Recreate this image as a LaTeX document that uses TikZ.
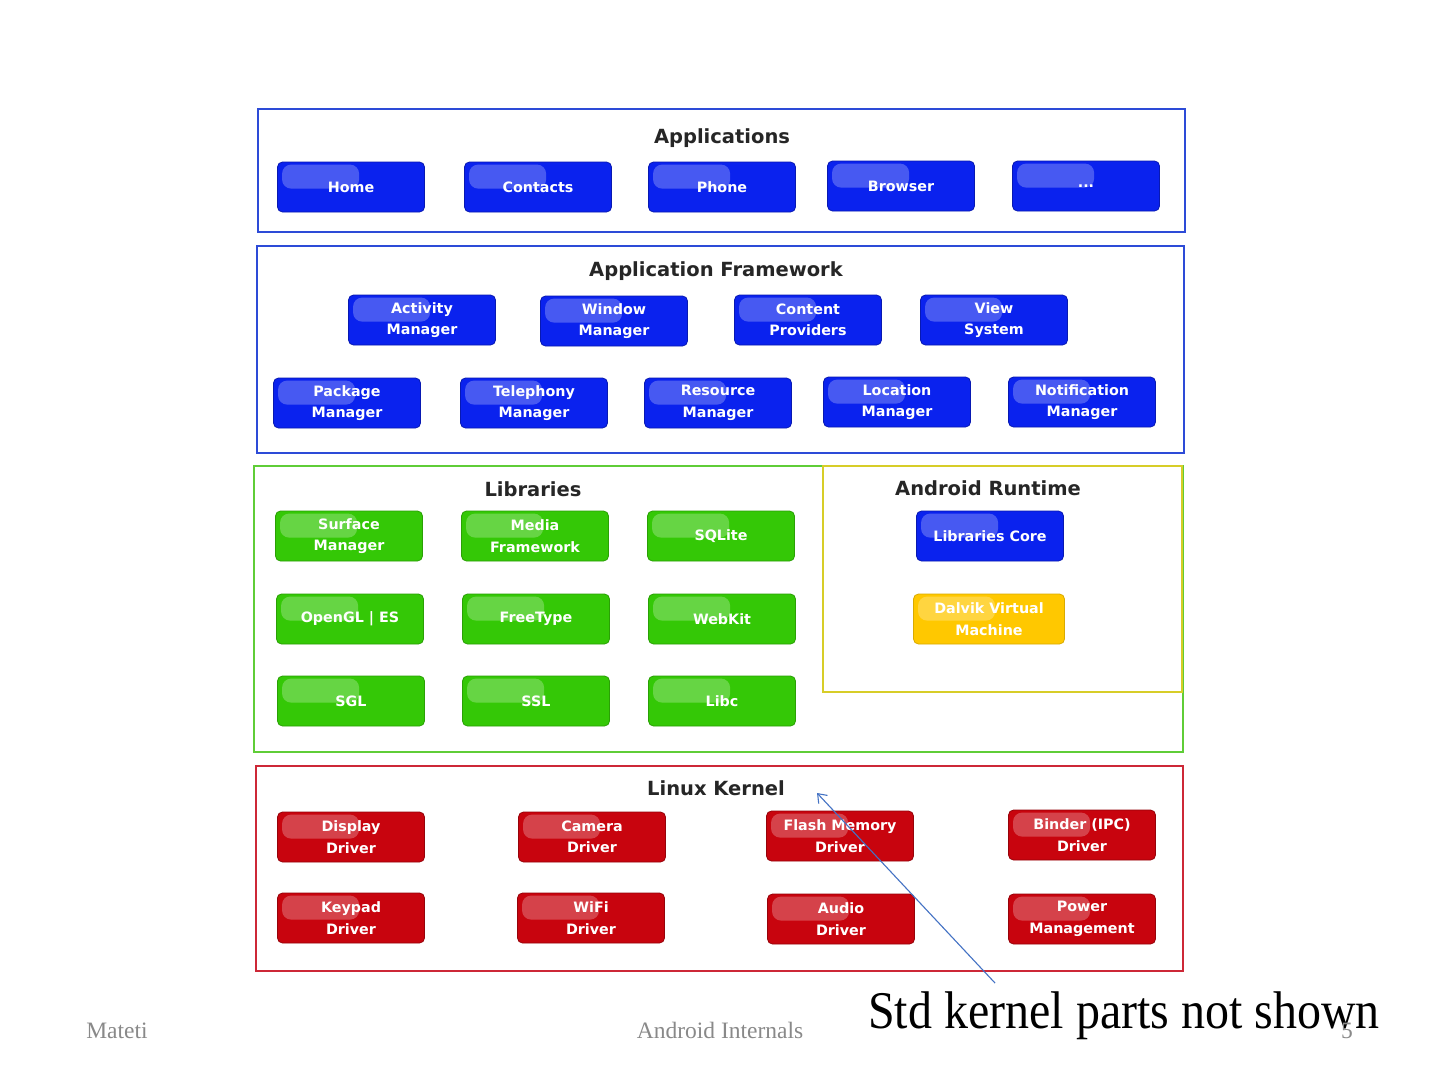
\documentclass[tikz,border=0pt]{standalone}
\usepackage{fontspec}
\setmainfont{Liberation Serif}
\newfontfamily\btnfont{DejaVu Sans}
\usetikzlibrary{arrows.meta}
\definecolor{bfill}{RGB}{10,34,238}
\definecolor{gfill}{RGB}{52,200,6}
\definecolor{rfill}{RGB}{200,4,14}
\definecolor{yfill}{RGB}{255,200,0}
\definecolor{bline}{RGB}{45,75,215}
\definecolor{gline}{RGB}{95,205,55}
\definecolor{yline}{RGB}{215,205,40}
\definecolor{rline}{RGB}{205,40,55}
\definecolor{arrowblue}{RGB}{68,114,196}
\definecolor{foot}{RGB}{137,137,137}
\tikzset{
  btn/.style={rounded corners=5pt, minimum width=147pt, minimum height=50pt,
    inner sep=0pt, align=center, text=white, line width=0.8pt,
    font=\btnfont\bfseries\fontsize{14.3}{21.5}\selectfont},
  bluebtn/.style={btn, fill=bfill, draw=bfill!75!black},
  greenbtn/.style={btn, fill=gfill, draw=gfill!80!black},
  redbtn/.style={btn, fill=rfill, draw=rfill!75!black},
  yellowbtn/.style={btn, fill=yfill, draw=yfill!85!black},
  layer/.style={line width=2.5pt, fill=white},
  ttl/.style={font=\btnfont\bfseries\fontsize{19.5}{22}\selectfont, text=black!85},
  footer/.style={font=\fontsize{23.5}{26}\selectfont, text=foot},
  glossy/.style={white, opacity=0.25, rounded corners=9pt}
}
\newcommand\glossit[1]{\fill[glossy] ([shift={(5pt,-3pt)}]#1.north west) rectangle ([shift={(82pt,-27pt)}]#1.north west);}
\begin{document}
\begin{tikzpicture}[x=1pt,y=-1pt]
\useasboundingbox (0,0) rectangle (1440,1080);
\fill[white] (0,0) rectangle (1440,1080);

% layers
\draw[layer, draw=bline] (258,109) rectangle (1185,232);
\draw[layer, draw=bline] (257,246) rectangle (1184,453);
\draw[layer, draw=gline] (254,466) rectangle (1183,752);
\draw[layer, draw=yline] (823,466) rectangle (1182,692);
\draw[layer, draw=rline] (256,766) rectangle (1183,971);

% titles
\node[ttl] (tapp) at (722,138) {Applications};
\node[ttl] (tfw) at (716,271) {Application Framework};
\node[ttl] (tlib) at (533,489) {Libraries};
\node[ttl] (trt) at (988,488) {Android Runtime};
\node[ttl] (tker) at (716,788) {Linux Kernel};

% Applications
\node[bluebtn] (home) at (351,187) {Home};
\node[bluebtn] (contacts) at (538,187) {Contacts};
\node[bluebtn] (phone) at (722,187) {Phone};
\node[bluebtn] (browser) at (901,186) {Browser};
\node[bluebtn] (more) at (1086,186) {...};

% Framework
\node[bluebtn] (activity) at (422,320) {Activity\\Manager};
\node[bluebtn] (window) at (614,321) {Window\\Manager};
\node[bluebtn] (content) at (808,320) {Content\\Providers};
\node[bluebtn] (view) at (994,320) {View\\System};
\node[bluebtn] (package) at (347,403) {Package\\Manager};
\node[bluebtn] (telephony) at (534,403) {Telephony\\Manager};
\node[bluebtn] (resource) at (718,403) {Resource\\Manager};
\node[bluebtn] (location) at (897,402) {Location\\Manager};
\node[bluebtn] (notification) at (1082,402) {Notification\\Manager};

% Libraries
\node[greenbtn] (surface) at (349,536) {Surface\\Manager};
\node[greenbtn] (media) at (535,536) {Media\\Framework};
\node[greenbtn] (sqlite) at (721,536) {SQLite};
\node[greenbtn] (opengl) at (350,619) {OpenGL | ES};
\node[greenbtn] (freetype) at (536,619) {FreeType};
\node[greenbtn] (webkit) at (722,619) {WebKit};
\node[greenbtn] (sgl) at (351,701) {SGL};
\node[greenbtn] (ssl) at (536,701) {SSL};
\node[greenbtn] (libc) at (722,701) {Libc};

% Runtime
\node[bluebtn] (core) at (990,536) {Libraries Core};
\node[yellowbtn, minimum width=151pt] (dalvik) at (989,619) {Dalvik Virtual\\Machine};

% Kernel
\node[redbtn] (display) at (351,837) {Display\\Driver};
\node[redbtn] (camera) at (592,837) {Camera\\Driver};
\node[redbtn] (flash) at (840,836) {Flash Memory\\Driver};
\node[redbtn] (binder) at (1082,835) {Binder (IPC)\\Driver};
\node[redbtn] (keypad) at (351,918) {Keypad\\Driver};
\node[redbtn] (wifi) at (591,918) {WiFi\\Driver};
\node[redbtn] (audio) at (841,919) {Audio\\Driver};
\node[redbtn] (power) at (1082,919) {Power\\Management};

% gloss highlights
\foreach \n in {home,contacts,phone,browser,more,activity,window,content,view,
  package,telephony,resource,location,notification,surface,media,sqlite,opengl,
  freetype,webkit,sgl,ssl,libc,core,dalvik,display,camera,flash,binder,keypad,
  wifi,audio,power}{\glossit{\n}}

% note and arrow
\node[font=\fontsize{53}{60}\selectfont, xscale=0.905, anchor=base] (note) at (1124,1028) {Std kernel parts not shown};
\coordinate (tail) at (995,983);
\coordinate (head) at (817,793);
\draw[arrowblue, line width=1.1pt, -{Straight Barb[length=8pt,width=12pt]}] (tail) -- (head);

% footer
\node[footer, anchor=base] (fl) at (117,1038) {Mateti};
\node[footer, anchor=base] (fc) at (720,1038) {Android Internals};
\node[footer, anchor=base] (fr) at (1347,1038) {5};
\end{tikzpicture}
\end{document}
